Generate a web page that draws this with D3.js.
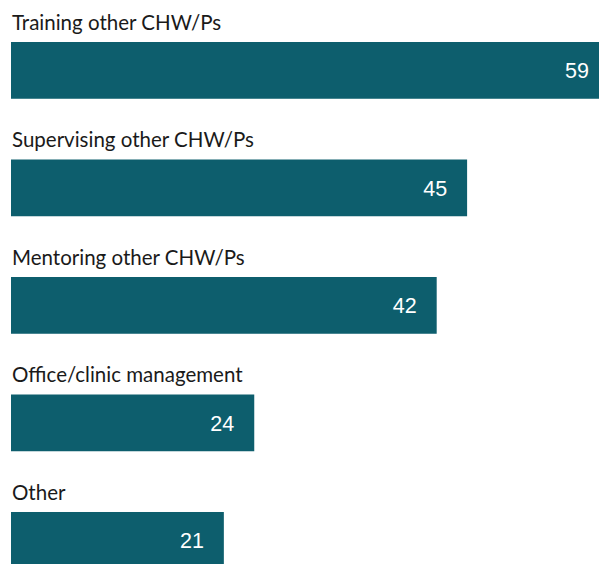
<!DOCTYPE html>
<html>
<head>
<meta charset="utf-8">
<script src="https://cdn.jsdelivr.net/npm/d3@7"></script>
<style>
  body { margin: 0; background: #fff; overflow: hidden; }
</style>
</head>
<body>
<svg id="chart" width="599" height="564"></svg>
<script>
let categories = ["Training other CHW/Ps", "Supervising other CHW/Ps", "Mentoring other CHW/Ps",
    "Office/clinic management", "Other"];
let values = [59, 45, 42, 24, 21];

let svg = d3.select("#chart");

let x = d3.scaleLinear()
    .domain([0, 59])
    .range([11, 609]);

let y = d3.scaleBand()
    .domain(categories)
    .range([42, 568.75])
    .paddingInner(0.517)
    .paddingOuter(0);

let data = categories.map((c, i) => ({cat: c, value: values[i]}));

let g = svg.selectAll("g.row")
    .data(data)
    .enter().append("g")
    .attr("class", "row");

g.append("rect")
    .attr("x", x(0))
    .attr("y", d => y(d.cat))
    .attr("width", d => x(d.value) - x(0))
    .attr("height", y.bandwidth())
    .attr("fill", "#0d5e6d");

g.append("text")
    .attr("x", x(0) + 1)
    .attr("y", d => y(d.cat) - 12)
    .attr("font-family", "Lato, sans-serif")
    .attr("font-size", 20.5)
    .attr("fill", "#1a1a1a")
    .text(d => d.cat);

g.append("text")
    .attr("x", d => x(d.value) - 20)
    .attr("y", d => y(d.cat) + y.bandwidth() / 2)
    .attr("dy", "0.36em")
    .attr("text-anchor", "end")
    .attr("font-family", "'Liberation Sans', Arial, sans-serif")
    .attr("font-size", 21.5)
    .attr("fill", "#ffffff")
    .text(d => d.value);
</script>
</body>
</html>
